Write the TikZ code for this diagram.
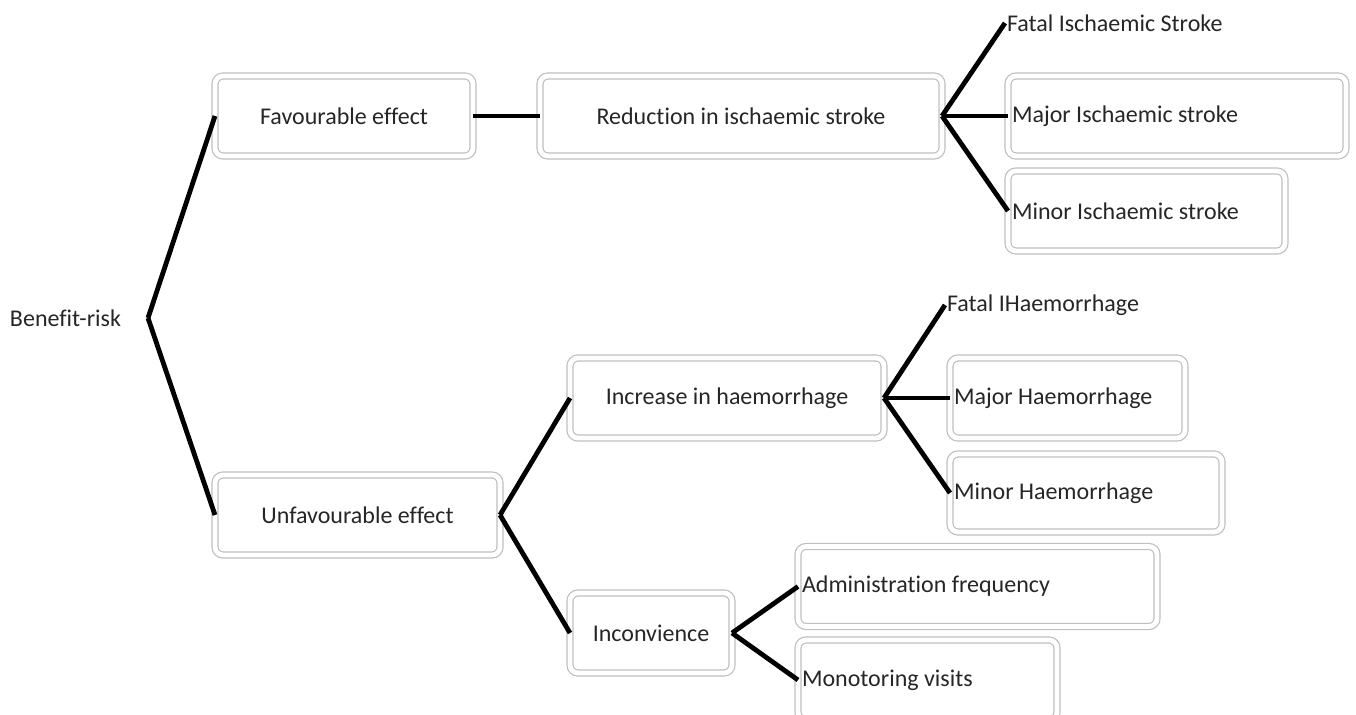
\documentclass[tikz,border=0pt]{standalone}
\usepackage{fontspec}
\setmainfont[Ligatures=NoCommon]{Carlito}
\begin{document}
\begin{tikzpicture}[x=0.5pt, y=-0.5pt,
    font=\fontsize{12}{14}\selectfont,
    box/.style={draw=black!25, double=white, double distance=2.4pt, line width=0.6pt,
      rounded corners=4pt, minimum height=40pt, outer sep=0pt, text=black!85},
    mid/.style={box, minimum width=#1},
    leaf/.style={box, text width=#1, align=flush left, inner xsep=2pt},
    tag/.style={anchor=west, inner sep=1pt, outer sep=0pt, text=black!85}]
      \useasboundingbox (0,0) rectangle (1356,715);
      \path
        (10,318) node[tag, inner sep=0pt, text width=69pt, align=flush left] (br){Benefit-risk}
        (344,116) node[mid=129pt] (fav){Favourable effect}
        (357.5,515) node[mid=142.5pt] (unfav){Unfavourable effect}
        (741,116) node[mid=201pt] (red){Reduction in ischaemic stroke}
        (1005,23) node[tag] (fis){Fatal Ischaemic Stroke}
        (1177,116) node[leaf=165pt] (mis){Major Ischaemic stroke}
        (1146.5,211) node[leaf=134.5pt] (nis){Minor Ischaemic stroke}
        (727,398) node[mid=157pt] (inc){Increase in haemorrhage}
        (945,305) node[tag] (fh){Fatal IHaemorrhage}
        (1067.5,398) node[leaf=113.5pt] (mh){Major Haemorrhage}
        (1086,493) node[leaf=132pt, minimum height=39pt] (nh){Minor Haemorrhage}
        (651,633) node[mid=81pt] (inc2){Inconvience}
        (977.5,586.5) node[leaf=175.5pt] (adm){Administration frequency}
        (927.5,680) node[leaf=125.5pt] (mon){Monotoring visits};
      \begin{scope}[line width=2.4pt]
        \draw (br.east) to (fav.west);
        \draw (br.east) to (unfav.west);
        \draw (fav.east) to (red.west);
        \draw (red.east) to (fis.west);
        \draw (red.east) to (mis.west);
        \draw (red.east) to (nis.west);
        \draw (unfav.east) to (inc.west);
        \draw (unfav.east) to (inc2.west);
        \draw (inc.east) to (fh.west);
        \draw (inc.east) to (mh.west);
        \draw (inc.east) to (nh.west);
        \draw (inc2.east) to (adm.west);
        \draw (inc2.east) to (mon.west);
      \end{scope}
    \end{tikzpicture}
\end{document}
